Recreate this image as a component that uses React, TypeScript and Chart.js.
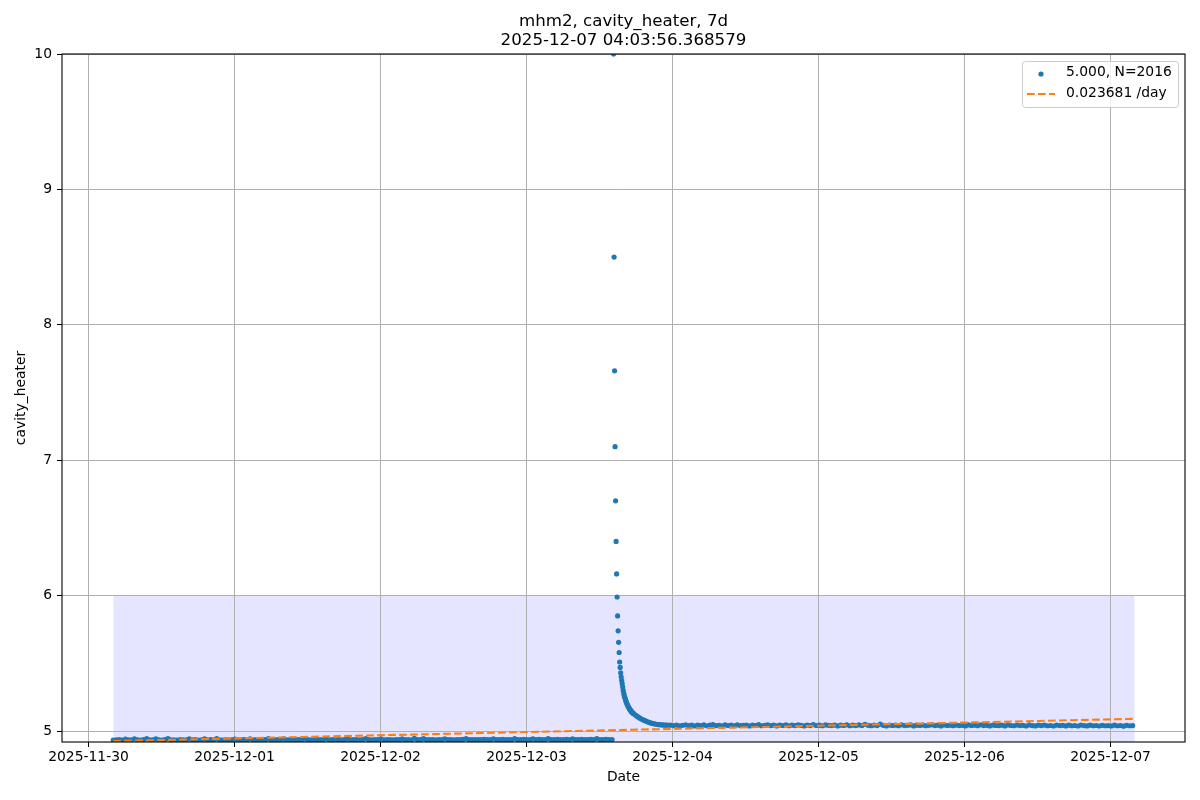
import { useEffect, useRef } from 'react';
import { Chart, registerables } from 'chart.js';

Chart.register(...registerables);

const FONT = 'DejaVu Sans';
const TITLE_LINES = ['mhm2, cavity_heater, 7d', '2025-12-07 04:03:56.368579'];
const X_TITLE = 'Date';
const Y_TITLE = 'cavity_heater';
const X_TICK_LABELS = ['2025-11-30', '2025-12-01', '2025-12-02', '2025-12-03', '2025-12-04', '2025-12-05', '2025-12-06', '2025-12-07'];
const Y_TICKS = [5, 6, 7, 8, 9, 10];
const Y_MIN = 4.919;
const Y_MAX = 10;
// x limits in days since 2025-11-30 00:00
const X_MIN = -0.1815;
const X_MAX = 7.5105;

const SERIES_LABEL = '5.000, N=2016';
const TREND_LABEL = '0.023681 /day';

// time: days since 2025-11-30 00:00; samples every 5 minutes
const START_DAY = 0.1694; // 2025-11-30 04:03:56
const STEP_DAYS = 1 / 288;
const N_POINTS = 2016;

// before the spike, one reading every 30 min (6 samples)
const PRE_START = 0;
const PRE_STEP = 6;
const PRE_VALUES = [
  4.933, 4.934, 4.936, 4.933, 4.941, 4.934, 4.935, 4.943, 4.934, 4.933, 4.936, 4.944,
  4.934, 4.935, 4.942, 4.934, 4.933, 4.936, 4.945, 4.934, 4.935, 4.933, 4.937, 4.934,
  4.935, 4.943, 4.934, 4.936, 4.933, 4.935, 4.942, 4.934, 4.936, 4.935, 4.944, 4.934,
  4.933, 4.936, 4.935, 4.934, 4.941, 4.935, 4.934, 4.937, 4.935, 4.943, 4.934, 4.936,
  4.935, 4.934, 4.936, 4.944, 4.935, 4.934, 4.936, 4.935, 4.942, 4.934, 4.936, 4.935,
  4.934, 4.937, 4.935, 4.943, 4.936, 4.934, 4.935, 4.937, 4.936, 4.935, 4.944, 4.935,
  4.936, 4.935, 4.937, 4.934, 4.936, 4.942, 4.935, 4.937, 4.936, 4.935, 4.936, 4.945,
  4.936, 4.935, 4.937, 4.936, 4.943, 4.935, 4.937, 4.936, 4.935, 4.937, 4.936, 4.942,
  4.936, 4.937, 4.935, 4.946, 4.937, 4.936, 4.944, 4.936, 4.937, 4.936, 4.935, 4.937,
  4.936, 4.943, 4.937, 4.936, 4.935, 4.937, 4.936, 4.938, 4.945, 4.936, 4.937, 4.936,
  4.937, 4.936, 4.938, 4.937, 4.936, 4.943, 4.937, 4.936, 4.938, 4.937, 4.936, 4.937,
  4.944, 4.937, 4.936, 4.938, 4.937, 4.936, 4.942, 4.937, 4.938, 4.936, 4.937, 4.945,
  4.937, 4.936, 4.938, 4.937, 4.936, 4.938, 4.937, 4.943, 4.936, 4.937, 4.938, 4.937,
  4.936, 4.938, 4.937, 4.944, 4.937, 4.936, 4.938, 4.937, 4.936,
];

// the spike, every 5 min
const SPIKE_START = 987;
const SPIKE_STEP = 1;
const SPIKE_VALUES = [
  10.0, 8.5, 7.66, 7.1, 6.7, 6.4, 6.16, 5.99, 5.85, 5.74, 5.655, 5.58, 5.51, 5.47, 5.43,
  5.4, 5.375, 5.35, 5.325, 5.3, 5.28, 5.265, 5.25, 5.238, 5.226, 5.215, 5.205, 5.196,
  5.188, 5.18, 5.173, 5.166, 5.16, 5.155, 5.15, 5.145, 5.141, 5.137, 5.133, 5.13, 5.127,
];

// decay tail, every 15 min
const DECAY_START = 1030;
const DECAY_STEP = 3;
const DECAY_VALUES = [
  5.118, 5.11, 5.102, 5.095, 5.089, 5.083, 5.078, 5.073, 5.068, 5.064, 5.06, 5.057,
  5.054, 5.052, 5.05, 5.048, 5.047, 5.046, 5.045, 5.044, 5.044, 5.043,
];

// after the spike, every 30 min
const POST_START = 1099;
const POST_STEP = 6;
const POST_VALUES = [
  5.043, 5.04, 5.044, 5.039, 5.042, 5.046, 5.04, 5.043, 5.038, 5.044, 5.041, 5.045,
  5.039, 5.043, 5.047, 5.04, 5.042, 5.038, 5.045, 5.041, 5.043, 5.039, 5.046, 5.04,
  5.042, 5.044, 5.038, 5.043, 5.041, 5.047, 5.039, 5.042, 5.045, 5.04, 5.043, 5.038,
  5.044, 5.041, 5.046, 5.039, 5.043, 5.04, 5.045, 5.042, 5.038, 5.044, 5.04, 5.047,
  5.041, 5.043, 5.039, 5.045, 5.042, 5.04, 5.044, 5.038, 5.043, 5.041, 5.046, 5.039,
  5.043, 5.04, 5.045, 5.041, 5.05, 5.042, 5.039, 5.044, 5.04, 5.051, 5.042, 5.038,
  5.044, 5.041, 5.043, 5.039, 5.046, 5.04, 5.042, 5.045, 5.038, 5.043, 5.041, 5.044,
  5.039, 5.042, 5.046, 5.04, 5.043, 5.038, 5.045, 5.041, 5.043, 5.039, 5.044, 5.04,
  5.042, 5.038, 5.045, 5.041, 5.043, 5.039, 5.046, 5.04, 5.042, 5.038, 5.044, 5.041,
  5.04, 5.043, 5.038, 5.045, 5.041, 5.039, 5.044, 5.04, 5.042, 5.037, 5.045, 5.04,
  5.038, 5.043, 5.04, 5.044, 5.039, 5.041, 5.037, 5.044, 5.04, 5.042, 5.038, 5.043,
  5.039, 5.041, 5.037, 5.044, 5.04, 5.038, 5.043, 5.039, 5.041, 5.037, 5.042, 5.039,
  5.04, 5.037, 5.043, 5.039, 5.041, 5.036, 5.042, 5.039, 5.04,
];

// linear fit at first and last sample
const TREND_VALUES = [4.926, 5.09];
// shaded band top value
const BAND_TOP = 6;

const COLOR_SERIES = '#1f77b4';
const COLOR_TREND = '#ff7f0e';
const COLOR_BAND = 'rgba(0,0,255,0.1)';
const COLOR_GRID = '#b0b0b0';

function segment(startIdx: number, step: number, values: number[]) {
  return values.map((v, i) => ({ x: START_DAY + (startIdx + i * step) * STEP_DAYS, y: v }));
}

const FIRST_X = START_DAY;
const LAST_X = START_DAY + (N_POINTS - 1) * STEP_DAYS;

const seriesData = [
  ...segment(PRE_START, PRE_STEP, PRE_VALUES),
  ...segment(SPIKE_START, SPIKE_STEP, SPIKE_VALUES),
  ...segment(DECAY_START, DECAY_STEP, DECAY_VALUES),
  ...segment(POST_START, POST_STEP, POST_VALUES),
];

const tickFont = { family: FONT, size: 13.89 };

const align1 = (p: number) => Math.round(p - 0.5) + 0.5;

const gridRedraw = {
  id: 'gridRedraw',
  beforeDatasetDraw(chart: any, args: any) {
    if (args.index !== 1) return;
    const { ctx, chartArea } = chart;
    const xs = chart.scales.x;
    const ys = chart.scales.y;
    ctx.save();
    ctx.beginPath();
    ctx.rect(chartArea.left, chartArea.top, chartArea.right - chartArea.left, chartArea.bottom - chartArea.top);
    ctx.clip();
    ctx.strokeStyle = COLOR_GRID;
    ctx.lineWidth = 1;
    xs.ticks.forEach((t: any) => {
      const p = align1(xs.getPixelForValue(t.value));
      ctx.beginPath();
      ctx.moveTo(p, chartArea.top);
      ctx.lineTo(p, chartArea.bottom);
      ctx.stroke();
    });
    ys.ticks.forEach((t: any) => {
      const p = align1(ys.getPixelForValue(t.value));
      ctx.beginPath();
      ctx.moveTo(chartArea.left, p);
      ctx.lineTo(chartArea.right, p);
      ctx.stroke();
    });
    ctx.restore();
  },
};

const frameAndLegend = {
  id: 'frameAndLegend',
  afterDatasetsDraw(chart: any) {
    const { ctx, chartArea } = chart;
    ctx.save();
    ctx.strokeStyle = '#000';
    ctx.lineWidth = 1.1;
    ctx.strokeRect(chartArea.left, chartArea.top, chartArea.right - chartArea.left, chartArea.bottom - chartArea.top);

    // legend
    const w = 156;
    const h = 46;
    const bx = chartArea.right - 7 - w;
    const by = chartArea.top + 7;
    ctx.beginPath();
    ctx.roundRect(bx + 0.5, by + 0.5, w, h, 3);
    ctx.fillStyle = 'rgba(255,255,255,0.8)';
    ctx.fill();
    ctx.strokeStyle = '#cccccc';
    ctx.lineWidth = 1;
    ctx.stroke();

    const ds = chart.data.datasets;
    ctx.fillStyle = COLOR_SERIES;
    ctx.beginPath();
    ctx.arc(bx + 19, by + 13, 2.6, 0, Math.PI * 2);
    ctx.fill();

    ctx.strokeStyle = COLOR_TREND;
    ctx.lineWidth = 2.08;
    ctx.setLineDash([7.7, 3.3]);
    ctx.beginPath();
    ctx.moveTo(bx + 5, by + 33);
    ctx.lineTo(bx + 33, by + 33);
    ctx.stroke();
    ctx.setLineDash([]);

    ctx.fillStyle = '#000';
    ctx.font = `13.89px "${FONT}"`;
    ctx.textAlign = 'left';
    ctx.textBaseline = 'alphabetic';
    ctx.fillText(ds[1].label, bx + 44, by + 14.7);
    ctx.fillText(ds[0].label, bx + 44, by + 35.7);
    ctx.restore();
  },
};

export default function App() {
  const ref = useRef<HTMLCanvasElement>(null);
  useEffect(() => {
    const chart = new Chart(ref.current as HTMLCanvasElement, {
      type: 'scatter',
      data: {
        datasets: [
          {
            type: 'line',
            label: TREND_LABEL,
            data: [
              { x: FIRST_X, y: TREND_VALUES[0] },
              { x: LAST_X, y: TREND_VALUES[1] },
            ],
            borderColor: COLOR_TREND,
            borderWidth: 2.08,
            borderDash: [7.7, 3.3],
            pointRadius: 0,
            fill: false,
            order: 1,
            clip: 0,
          } as any,
          {
            type: 'scatter',
            label: SERIES_LABEL,
            data: seriesData,
            backgroundColor: COLOR_SERIES,
            borderColor: COLOR_SERIES,
            pointRadius: 2.6,
            pointBorderWidth: 0,
            order: 2,
            clip: 0,
          } as any,
          {
            type: 'line',
            label: 'band',
            data: [
              { x: FIRST_X, y: BAND_TOP },
              { x: LAST_X, y: BAND_TOP },
            ],
            borderColor: 'rgba(0,0,0,0)',
            borderWidth: 0,
            backgroundColor: COLOR_BAND,
            pointRadius: 0,
            fill: 'start',
            order: 3,
            clip: 0,
          } as any,
        ],
      },
      options: {
        responsive: false,
        maintainAspectRatio: false,
        devicePixelRatio: 1,
        animation: false,
        events: [],
        layout: { padding: { left: 0, right: 15, top: 0, bottom: 0 } },
        plugins: {
          legend: { display: false },
          tooltip: { enabled: false },
          title: {
            display: true,
            fullSize: false,
            text: TITLE_LINES,
            color: '#000',
            font: { family: FONT, size: 16.67, weight: 'normal', lineHeight: 1.17 },
            padding: { top: 11.75, bottom: 3.25 },
          },
        },
        scales: {
          x: {
            type: 'linear',
            min: X_MIN,
            max: X_MAX,
            afterBuildTicks: (s: any) => {
              s.ticks = X_TICK_LABELS.map((_, i) => ({ value: i }));
            },
            afterFit: (s: any) => {
              s.height = 58;
            },
            ticks: {
              autoSkip: false,
              maxRotation: 0,
              padding: 2,
              color: '#000',
              font: tickFont,
              callback: (v: any) => X_TICK_LABELS[v as number],
            },
            grid: { color: COLOR_GRID, lineWidth: 1, tickColor: '#000', tickLength: 5, tickWidth: 1 },
            border: { display: false },
            title: {
              display: true,
              text: X_TITLE,
              color: '#000',
              font: tickFont,
              padding: { top: 0, bottom: 14.7 },
            },
          },
          y: {
            type: 'linear',
            min: Y_MIN,
            max: Y_MAX,
            afterBuildTicks: (s: any) => {
              s.ticks = Y_TICKS.map((v) => ({ value: v }));
            },
            afterFit: (s: any) => {
              s.width = 62;
            },
            ticks: {
              padding: 5,
              color: '#000',
              font: tickFont,
              callback: (v: any) => String(v),
            },
            grid: { color: COLOR_GRID, lineWidth: 1, tickColor: '#000', tickLength: 5, tickWidth: 1 },
            border: { display: false },
            title: {
              display: true,
              text: Y_TITLE,
              color: '#000',
              font: tickFont,
              padding: { top: 13, bottom: 0 },
            },
          },
        },
      } as any,
      plugins: [gridRedraw, frameAndLegend],
    });
    return () => chart.destroy();
  }, []);

  return (
    <div style={{ position: 'fixed', left: 0, top: 0, width: 1200, height: 800, background: '#fff' }}>
      <canvas ref={ref} width={1200} height={800} style={{ display: 'block', width: 1200, height: 800 }} />
    </div>
  );
}
